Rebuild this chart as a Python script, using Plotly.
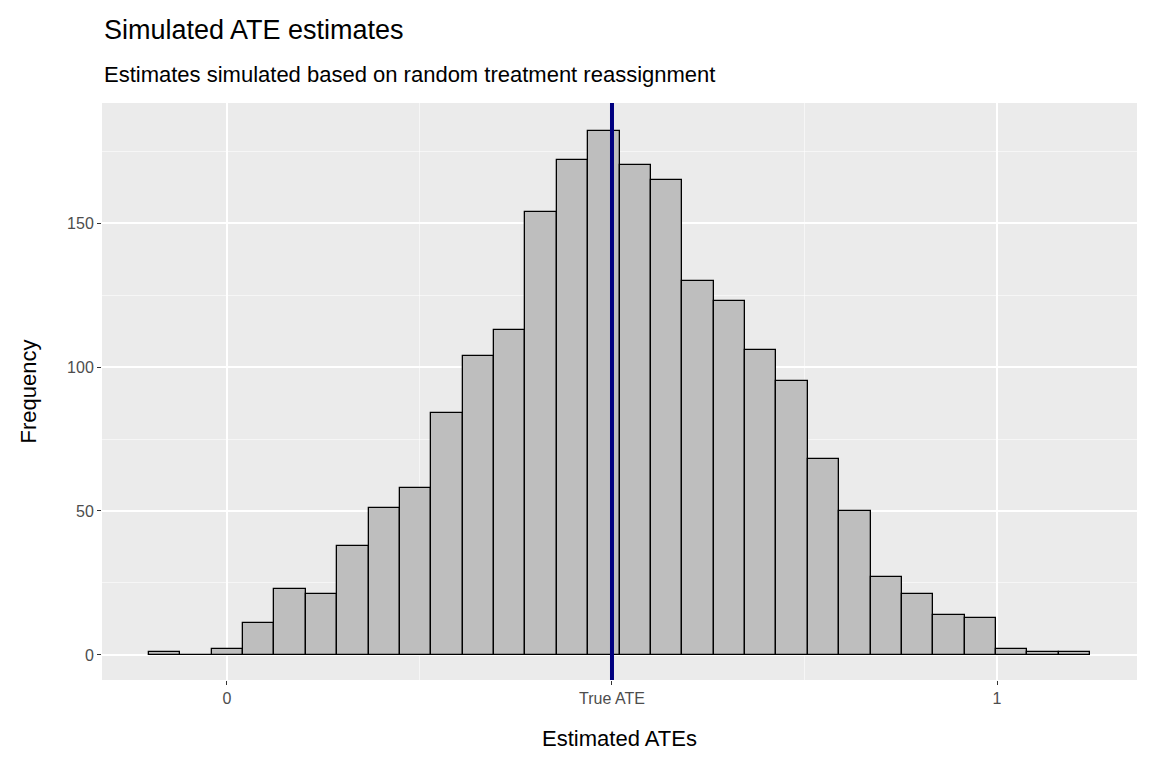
import plotly.graph_objects as go

bin_start = -0.1013
bin_width = 0.04074
counts = [1, 0, 2, 11, 23, 21, 38, 51, 58, 84, 104, 113, 154, 172, 182,
          170, 165, 130, 123, 106, 95, 68, 50, 27, 21, 14, 13, 2, 1, 1]
true_ate = 0.5
tick_vals = [0, 0.5, 1]
tick_text = ["0", "True ATE", "1"]

centers = [bin_start + bin_width * (i + 0.5) for i in range(len(counts))]

fig = go.Figure()
fig.add_trace(go.Bar(x=centers, y=counts, width=bin_width,
                     marker=dict(color="#BEBEBE", line=dict(color="black", width=1.3)),
                     showlegend=False, hoverinfo="skip"))
fig.add_shape(type="line", x0=true_ate, x1=true_ate, y0=0, y1=1, yref="paper",
              line=dict(color="#000080", width=4))

fig.update_layout(
    width=1152, height=768, paper_bgcolor="white", plot_bgcolor="#EBEBEB",
    font=dict(family="Liberation Sans, Arial", color="black"),
    margin=dict(l=94, r=23, t=95, b=96, autoexpand=False),
    bargap=0,
    xaxis=dict(range=[-0.1623, 1.1818], tickvals=tick_vals, ticktext=tick_text,
               showgrid=True, gridcolor="white", gridwidth=1.5, zeroline=False,
               ticks="outside", ticklen=4, tickcolor="#333333",
               tickfont=dict(size=16, color="#4D4D4D"),
               minor=dict(tickvals=[0.25, 0.75], ticks="", showgrid=True,
                          gridcolor="rgba(255,255,255,0.55)", gridwidth=0.7),
               title=dict(text="Estimated ATEs", font=dict(size=22), standoff=24)),
    yaxis=dict(range=[-8.7, 191.7], tickvals=[0, 50, 100, 150],
               showgrid=True, gridcolor="white", gridwidth=1.5, zeroline=False,
               ticks="outside", ticklen=4, tickcolor="#333333",
               tickfont=dict(size=16, color="#4D4D4D"),
               minor=dict(tickvals=[25, 75, 125, 175], ticks="", showgrid=True,
                          gridcolor="rgba(255,255,255,0.55)", gridwidth=0.7),
               title=dict(text="Frequency", font=dict(size=22), standoff=24)),
)
fig.add_annotation(text="Simulated ATE estimates", xref="paper", yref="paper",
                   x=0.0, y=1.0, yshift=73, xanchor="left", yanchor="middle",
                   showarrow=False, font=dict(size=27))
fig.add_annotation(text="Estimates simulated based on random treatment reassignment",
                   xref="paper", yref="paper", x=0.0, y=1.0, yshift=29,
                   xanchor="left", yanchor="middle", showarrow=False, font=dict(size=22))
fig.write_html("out.html")
